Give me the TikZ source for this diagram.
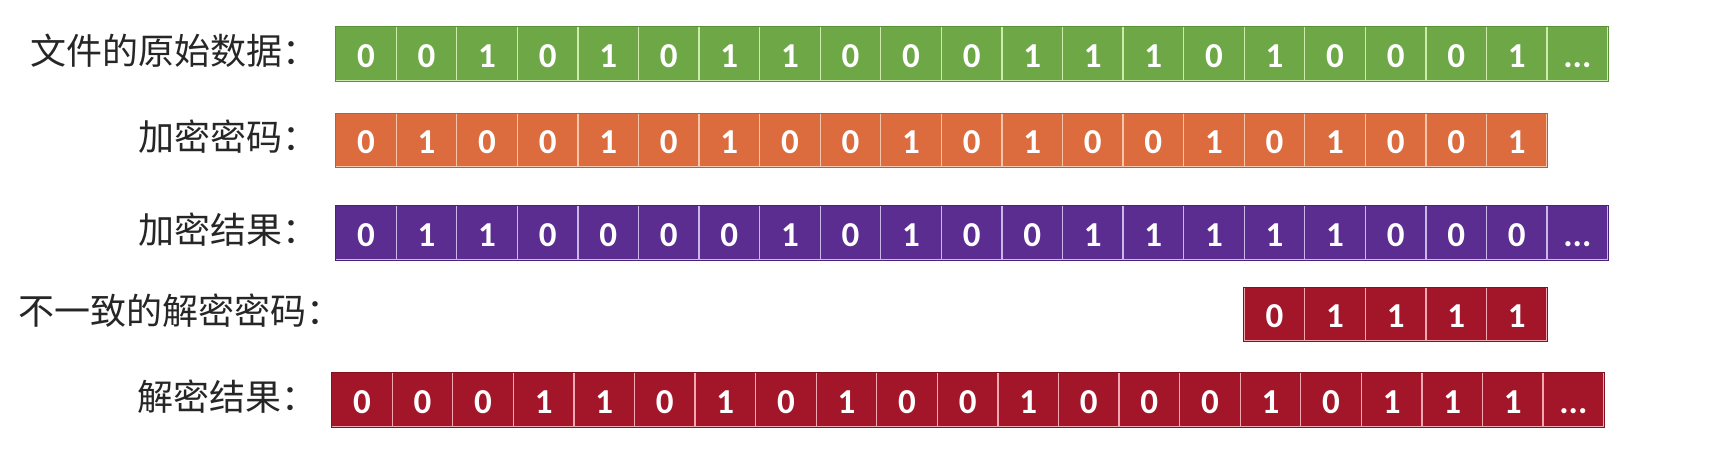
\documentclass[tikz,border=0pt]{standalone}
\usepackage{fontspec}
\newfontfamily\cjk{Noto Sans CJK SC}
\newfontfamily\digitfont{Carlito}
\definecolor{gF}{HTML}{6EA846}\definecolor{gL}{HTML}{CDEBAA}\definecolor{gD}{HTML}{5A9038}
\definecolor{oF}{HTML}{DC6B3E}\definecolor{oL}{HTML}{F7C6AA}\definecolor{oD}{HTML}{C45A30}
\definecolor{pF}{HTML}{5B2D90}\definecolor{pL}{HTML}{CBB8E8}\definecolor{pD}{HTML}{4A2278}
\definecolor{rF}{HTML}{A3162A}\definecolor{rL}{HTML}{F2A8B2}\definecolor{rD}{HTML}{851020}
\tikzset{
  cell/.style={anchor=north west, minimum width=60.57pt, minimum height=54pt,
    inner sep=0pt, line width=1.3pt, text=white,
    font=\digitfont\bfseries\fontsize{35}{35}\selectfont,
    text height=27.5pt, text depth=0pt},
  gcell/.style={cell, fill=gF, draw=gL},
  ocell/.style={cell, fill=oF, draw=oL},
  pcell/.style={cell, fill=pF, draw=pL},
  rcell/.style={cell, fill=rF, draw=rL},
  outline/.style={draw=#1, line width=0.8pt},
  lab/.style={anchor=west, inner sep=0pt, font=\cjk\fontsize{36}{36}\selectfont, text=black!85}
}
\begin{document}
\begin{tikzpicture}[x=1pt,y=-1pt]
\useasboundingbox[fill=white] (0,0) rectangle (1717,455);
% row 1
\node[lab] (l1) at (30,51) {文件的原始数据：};
\foreach \d [count=\i from 0] in {0,0,1,0,1,0,1,1,0,0,0,1,1,1,0,1,0,0,0,1}
  \node[gcell] (g\i) at ({335+\i*60.57},26) {\d};
\node[gcell] (g20) at ({335+20*60.57},26) {...};
\draw[outline=gD] (g0.north west) rectangle (g20.south east);
% row 2
\node[lab] (l2) at (138,137) {加密密码：};
\foreach \d [count=\i from 0] in {0,1,0,0,1,0,1,0,0,1,0,1,0,0,1,0,1,0,0,1}
  \node[ocell, minimum height=53pt] (o\i) at ({335+\i*60.57},113) {\d};
\draw[outline=oD] (o0.north west) rectangle (o19.south east);
% row 3
\node[lab] (l3) at (138,230) {加密结果：};
\foreach \d [count=\i from 0] in {0,1,1,0,0,0,0,1,0,1,0,0,1,1,1,1,1,0,0,0}
  \node[pcell] (p\i) at ({335+\i*60.57},205) {\d};
\node[pcell] (p20) at ({335+20*60.57},205) {...};
\draw[outline=pD] (p0.north west) rectangle (p20.south east);
% row 4
\node[lab] (l4) at (18.5,311) {不一致的解密密码：};
\foreach \d [count=\i from 15] in {0,1,1,1,1}
  \node[rcell, minimum height=53pt] (k\i) at ({335+\i*60.57},287) {\d};
\draw[outline=rD] (k15.north west) rectangle (k19.south east);
% row 5
\node[lab] (l5) at (137,397) {解密结果：};
\foreach \d [count=\i from 0] in {0,0,0,1,1,0,1,0,1,0,0,1,0,0,0,1,0,1,1,1}
  \node[rcell] (r\i) at ({331+\i*60.57},372) {\d};
\node[rcell] (r20) at ({331+20*60.57},372) {...};
\draw[outline=rD] (r0.north west) rectangle (r20.south east);
\end{tikzpicture}
\end{document}
